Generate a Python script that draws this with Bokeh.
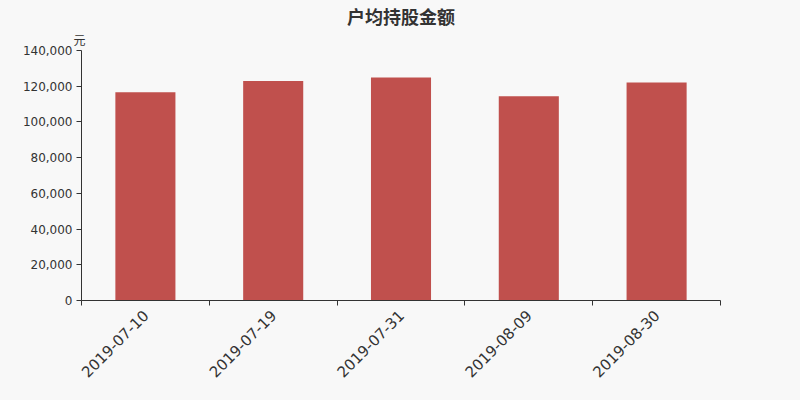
import math
from bokeh.plotting import figure
from bokeh.models import Range1d, FixedTicker, NumeralTickFormatter, Title, ColumnDataSource
from bokeh.embed import file_html
from bokeh.resources import INLINE

title = "户均持股金额"
unit = "元"
dates = ["2019-07-10", "2019-07-19", "2019-07-31", "2019-08-09", "2019-08-30"]
values = [116650, 122900, 124850, 114400, 122100]
yticks = [0, 20000, 40000, 60000, 80000, 100000, 120000, 140000]

BG = "#f8f8f8"
TXT = "#333333"
BAR = "#c0504d"

centers = [i + 0.5 for i in range(len(dates))]
bounds = list(range(len(dates) + 1))
src = ColumnDataSource(dict(x=centers, top=values, label=dates))

p = figure(width=800, height=400, output_backend="svg", toolbar_location=None,
           x_range=Range1d(0, len(dates)), y_range=Range1d(yticks[0], yticks[-1]),
           min_border_left=81, min_border_right=80, min_border_top=50, min_border_bottom=100,
           background_fill_color=BG, border_fill_color=BG, outline_line_color=None)

p.vbar(x="x", top="top", width=0.47, source=src, fill_color=BAR, line_color=None)

p.add_layout(Title(text=unit, align="left", offset=-8, standoff=0,
                   padding=dict(left=0, right=0, top=0, bottom=3),
                   text_font="Noto Sans CJK SC", text_font_size="12px",
                   text_font_style="normal", text_color=TXT), "above")

p.title.text = title
p.title.align = "center"
p.title.standoff = 0
p.title.text_font = "Noto Sans CJK SC"
p.title.text_font_size = "18px"
p.title.text_font_style = "bold"
p.title.text_color = TXT

p.xgrid.grid_line_color = None
p.ygrid.grid_line_color = None

xa = p.xaxis[0]
xa.ticker = FixedTicker(ticks=centers, minor_ticks=bounds)
xa.major_label_overrides = {c: d for c, d in zip(centers, dates)}
xa.major_tick_line_color = None
xa.minor_tick_in = 0
xa.minor_tick_out = 5
xa.minor_tick_line_color = TXT
xa.axis_line_color = TXT
xa.major_label_orientation = math.pi / 4
xa.major_label_text_font = "DejaVu Sans"
xa.major_label_text_font_size = "15px"
xa.major_label_text_color = TXT
xa.major_label_standoff = 6

ya = p.yaxis[0]
ya.ticker = FixedTicker(ticks=yticks, minor_ticks=[])
ya.formatter = NumeralTickFormatter(format="0,0")
ya.major_tick_in = 0
ya.major_tick_out = 5
ya.major_tick_line_color = TXT
ya.minor_tick_line_color = None
ya.axis_line_color = TXT
ya.major_label_text_font = "DejaVu Sans"
ya.major_label_text_font_size = "12px"
ya.major_label_text_color = TXT
ya.major_label_standoff = 4

html = file_html(p, INLINE)
head, sep, rest = html.partition("</head>")
rest = rest.replace("<body>", '<body style="margin:0;background:%s">' % BG, 1)
open("out.html", "w").write(head + sep + rest)
